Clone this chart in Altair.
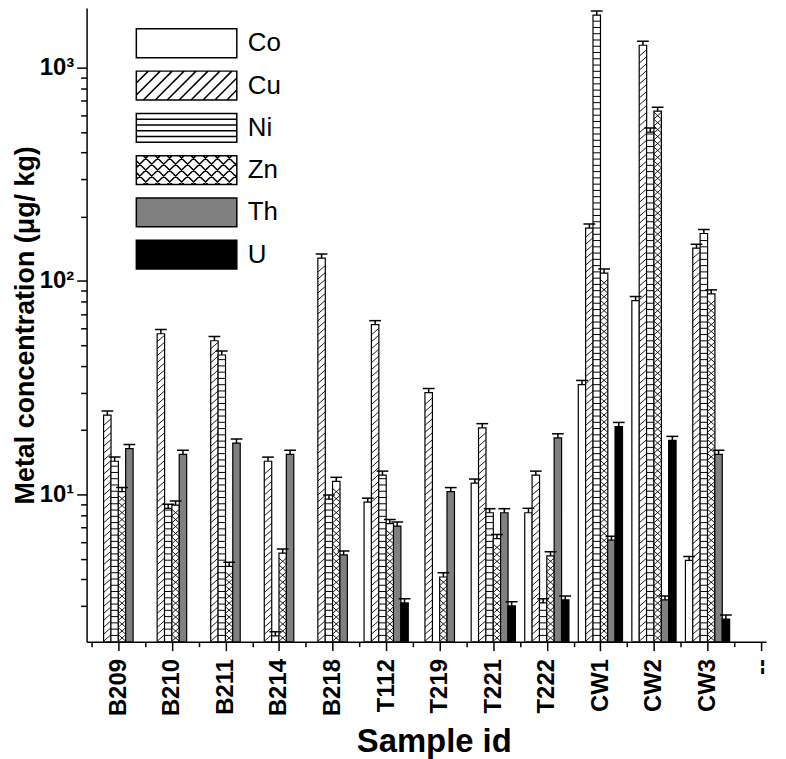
import math
import altair as alt
import pandas as pd

# ---------------- data ----------------
samples = ["B209", "B210", "B211", "B214", "B218", "T112", "T219", "T221", "T222", "CW1", "CW2", "CW3"]
tick_labels = samples + ["--"]
metals = ["Co", "Cu", "Ni", "Zn", "Th", "U"]

co = [None, None, None, None, None, 9.2, None, 11.3, 8.2, 32.7, 81, 4.9]
cu = [23.5, 56.6, 52.5, 14.3, 128, 62.4, 30, 20.5, 12.3, 177, 1274, 142.5]
ni = [14.3, 8.6, 45, 2.17, 9.5, 12.3, None, 8.2, 3.1, 1762, 499, 167]
zn = [10.3, 8.9, 4.6, 5.3, 11.5, 7.3, 4.1, 6.2, 5.15, 109, 625, 87]
th = [16.4, 15.4, 17.4, 15.4, 5.2, 7.1, 10.3, 8.2, 18.4, 6.1, 3.2, 15.4]
u = [None, None, None, None, None, 3.1, None, 3.0, 3.2, 20.8, 17.9, 2.6]

co_err = [None, None, None, None, None, 0.4, None, 0.5, 0.4, 1.5, 3.6, 0.22]
cu_err = [1.1, 2.6, 2.4, 0.65, 5.8, 2.8, 1.35, 0.95, 0.55, 8, 57, 6.4]
ni_err = [0.65, 0.4, 2.0, 0.1, 0.43, 0.55, None, 0.37, 0.14, 80, 22, 7.5]
zn_err = [0.46, 0.4, 0.21, 0.24, 0.52, 0.33, 0.19, 0.28, 0.23, 4.9, 28, 3.9]
th_err = [0.74, 0.7, 0.78, 0.7, 0.23, 0.32, 0.46, 0.37, 0.83, 0.27, 0.14, 0.7]
u_err = [None, None, None, None, None, 0.14, None, 0.14, 0.14, 0.94, 0.8, 0.12]

values = [co, cu, ni, zn, th, u]
errors = [co_err, cu_err, ni_err, zn_err, th_err, u_err]

rows = []
for k, (m, vals, errs) in enumerate(zip(metals, values, errors)):
    for i, (v, e) in enumerate(zip(vals, errs)):
        if v is None:
            continue
        rows.append(dict(sample=samples[i], idx=i, metal=m, k=k, value=v, err=e))
df = pd.DataFrame(rows)

# ---------------- geometry / style ----------------
W, H = 683, 637
XMIN, XMAX = -0.5, 12
YMIN, YMAX = 2.04, 1905
PX = (XMAX - XMIN) / W                 # data units per pixel (x)
PPD = H / math.log10(YMAX / YMIN)      # pixels per decade (y)
BAR_PX = 7.5
LOGMIN = math.log10(YMIN)
FONT = "Liberation Sans"

x_scale = alt.Scale(domain=[XMIN, XMAX], nice=False, zero=False)
y_scale = alt.Scale(type="log", domain=[YMIN, YMAX], nice=False)

# legend symbols: box 101 x 29 px, unit = 14.5 px
BOXW, BOXH, UNIT = 101.0, 29.0, 14.5


def uu(px):
    return round(px / UNIT - 1, 4)


def clip_seg(x0, y0, x1, y1):
    t0, t1 = 0.0, 1.0
    dx, dy = x1 - x0, y1 - y0
    for p, q in ((-dx, x0), (dx, BOXW - x0), (-dy, y0), (dy, BOXH - y0)):
        if p == 0:
            if q < 0:
                return None
            continue
        r = q / p
        if p < 0:
            t0 = max(t0, r)
        else:
            t1 = min(t1, r)
    if t0 >= t1:
        return None
    return (x0 + t0 * dx, y0 + t0 * dy, x0 + t1 * dx, y0 + t1 * dy)


def seg_path(segs):
    out = ""
    for s in segs:
        c = clip_seg(*s)
        if c:
            out += f"M{uu(c[0])},{uu(c[1])}L{uu(c[2])},{uu(c[3])}"
    return out


box = f"M{uu(0)},{uu(0)}L{uu(BOXW)},{uu(0)}L{uu(BOXW)},{uu(BOXH)}L{uu(0)},{uu(BOXH)}Z"
step = 12.0
n = int((BOXW + BOXH) / step) + 2
fwd = [(-BOXH + i * step, BOXH, i * step, 0) for i in range(n)]
bwd = [(-BOXH + i * step, 0, i * step, BOXH) for i in range(n)]
hor = [(0, BOXH * j / 5, BOXW, BOXH * j / 5) for j in range(1, 5)]
shape_paths = [
    box,
    box + seg_path(fwd),
    box + seg_path(hor),
    box + seg_path(fwd) + seg_path(bwd),
    box,
    box,
]
fill_colors = ["#ffffff", "#ffffff", "#ffffff", "#ffffff", "#808080", "#000000"]

fill_scale = alt.Scale(domain=metals, range=fill_colors)
shape_scale = alt.Scale(domain=metals, range=shape_paths)
stroke_scale = alt.Scale(domain=metals, range=["#000000"] * len(metals))

legend_def = alt.Legend(
    orient="none", legendX=49, legendY=20, title=None,
    labelFontSize=26, labelFont=FONT, labelColor="black",
    labelOffset=82, rowPadding=7.5, symbolSize=BOXH * BOXH,
    symbolStrokeColor="black", symbolStrokeWidth=1.5, symbolOpacity=1,
    padding=0,
)

base = alt.Chart(df).transform_calculate(
    pos=f"datum.idx + (datum.k - 2.5) * {BAR_PX * PX}",
    xl=f"datum.idx + (datum.k - 2.5) * {BAR_PX * PX} - {BAR_PX / 2 * PX}",
    xr=f"datum.idx + (datum.k - 2.5) * {BAR_PX * PX} + {BAR_PX / 2 * PX}",
    cl=f"datum.idx + (datum.k - 2.5) * {BAR_PX * PX} - {6 * PX}",
    cr=f"datum.idx + (datum.k - 2.5) * {BAR_PX * PX} + {6 * PX}",
    upper="datum.value + datum.err",
)

major_x = alt.Axis(
    values=list(range(13)), labelExpr=f"{tick_labels}[datum.value]",
    labelAngle=-90, labelFontSize=24, labelFontWeight="bold", labelFont=FONT,
    labelPadding=8, tickSize=9, orient="bottom", grid=False,
    title="Sample id", titleFontSize=33, titleFontWeight="bold", titleFont=FONT,
    titlePadding=10, titleX=349,
)
major_y = alt.Axis(
    values=[10, 100, 1000],
    labelExpr="datum.value == 10 ? '10¹' : datum.value == 100 ? '10²' : datum.value == 1000 ? '10³' : ''",
    labelFontSize=24, labelFontWeight="bold", labelFont=FONT, labelPadding=3,
    tickSize=10, orient="left", grid=False,
    title="Metal concentration (μg/ kg)", titleFontSize=27, titleFontWeight="bold",
    titleFont=FONT, titlePadding=0,
)
minor_x = alt.Axis(values=[i - 0.5 for i in range(13)], tickSize=5, labels=False,
                   domain=False, title=None, orient="bottom", grid=False)
minor_y_vals = [3, 4, 5, 6, 7, 8, 9, 20, 30, 40, 50, 60, 70, 80, 90,
                200, 300, 400, 500, 600, 700, 800, 900]
minor_y = alt.Axis(values=minor_y_vals, tickSize=6, labels=False, domain=False,
                   title=None, orient="left", grid=False)

bars = base.mark_bar(width=BAR_PX, strokeWidth=1.2, clip=True).encode(
    x=alt.X("pos:Q", scale=x_scale, axis=major_x),
    y=alt.Y("value:Q", scale=y_scale, stack=None, axis=major_y),
    y2=alt.datum(YMIN),
    fill=alt.Fill("metal:N", scale=fill_scale, legend=legend_def),
    stroke=alt.Stroke("metal:N", scale=stroke_scale, legend=legend_def),
)

# hatch: Ni horizontal lines
ni_h = base.transform_filter("datum.metal == 'Ni'").transform_calculate(
    h=f"sequence({LOGMIN + 6.3 / PPD}, log(datum.value) / LN10 - {1.5 / PPD}, {6.3 / PPD})"
).transform_flatten(["h"]).transform_calculate(yv="pow(10, datum.h)").mark_rule(
    color="black", strokeWidth=1, clip=True
).encode(
    x=alt.X("xl:Q", scale=x_scale, axis=None), x2="xr:Q",
    y=alt.Y("yv:Q", scale=y_scale, axis=None),
)

R = 6.5  # rise of diagonal in px
S = 7.0  # vertical spacing in px


def diag(metal_filter, forward):
    c = base.transform_filter(metal_filter).transform_calculate(
        h=f"sequence({LOGMIN - R / PPD}, log(datum.value) / LN10 - {(R + 0.8) / PPD}, {S / PPD})"
    ).transform_flatten(["h"]).transform_calculate(
        ya="pow(10, datum.h)", yb=f"pow(10, datum.h + {R / PPD})"
    )
    if forward:
        enc = dict(y=alt.Y("ya:Q", scale=y_scale, axis=None), y2="yb:Q")
    else:
        enc = dict(y=alt.Y("yb:Q", scale=y_scale, axis=None), y2="ya:Q")
    return c.mark_rule(color="black", strokeWidth=0.9, clip=True).encode(
        x=alt.X("xl:Q", scale=x_scale, axis=None), x2="xr:Q", **enc
    )


cu_h = diag("datum.metal == 'Cu'", True)
zn_h1 = diag("datum.metal == 'Zn'", True)
zn_h2 = diag("datum.metal == 'Zn'", False)

whisk = base.mark_rule(color="black", strokeWidth=1.5, clip=True).encode(
    x=alt.X("pos:Q", scale=x_scale, axis=minor_x),
    y=alt.Y("value:Q", scale=y_scale, axis=minor_y),
    y2="upper:Q",
)
cap = base.mark_rule(color="black", strokeWidth=1.5, clip=True).encode(
    x=alt.X("cl:Q", scale=x_scale, axis=None), x2="cr:Q",
    y=alt.Y("upper:Q", scale=y_scale, axis=None),
)

pts = base.transform_filter("false").mark_point(filled=True, strokeWidth=1.5, opacity=1).encode(
    x=alt.X("pos:Q", scale=x_scale, axis=None),
    y=alt.Y("value:Q", scale=y_scale, axis=None),
    fill=alt.Fill("metal:N", scale=fill_scale, legend=legend_def),
    stroke=alt.Stroke("metal:N", scale=stroke_scale, legend=legend_def),
    shape=alt.Shape("metal:N", scale=shape_scale, legend=legend_def),
)

chart = alt.layer(bars, ni_h, cu_h, zn_h1, zn_h2, whisk, cap, pts).resolve_axis(
    x="independent", y="independent"
).properties(
    width=W, height=H, padding={"left": 3, "top": -2, "right": 5, "bottom": 0}
).configure_view(stroke=None).configure_axis(
    domainColor="black", domainWidth=1.5, tickColor="black", tickWidth=1.5,
    labelColor="black", titleColor="black",
)

chart.save("out.html", embed_options={"renderer": "svg", "actions": False})
